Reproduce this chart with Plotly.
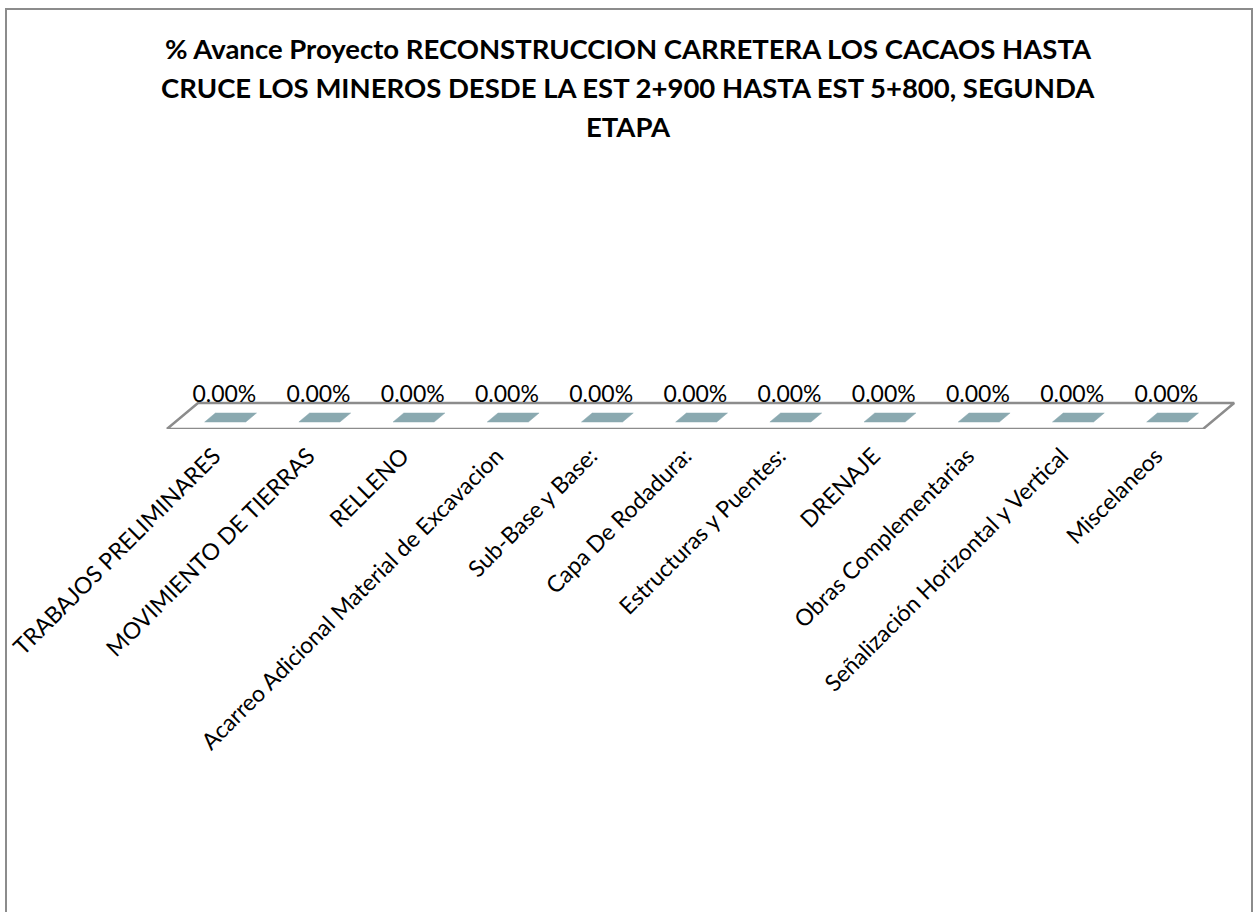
import plotly.graph_objects as go

categories = [
    "TRABAJOS PRELIMINARES",
    "MOVIMIENTO DE TIERRAS",
    "RELLENO",
    "Acarreo Adicional Material de Excavacion",
    "Sub-Base y Base:",
    "Capa De Rodadura:",
    "Estructuras y Puentes:",
    "DRENAJE",
    "Obras Complementarias",
    "Señalización Horizontal y Vertical",
    "Miscelaneos",
]
avance = [0.0, 0.0, 0.0, 0.0, 0.0, 0.0, 0.0, 0.0, 0.0, 0.0, 0.0]
title_lines = [
    "% Avance Proyecto RECONSTRUCCION CARRETERA LOS CACAOS HASTA",
    "CRUCE LOS MINEROS DESDE LA EST 2+900 HASTA EST 5+800, SEGUNDA",
    "ETAPA",
]

W, H = 1256, 912
# pseudo-3D geometry: depth on y, x skewed with depth
SKEW = 0.33
FRONT, BACK = 0.27, 0.615
HALF = 0.218
OFF = 0.03
HEIGHT_SCALE = 10.0
LABEL_DEPTH = 1.25
BAR_COLOR = "#8AA9B0"
FONT = "Lato"

fig = go.Figure()
n = len(categories)

# floor
fig.add_trace(go.Scatter(
    x=[-0.5, -0.5 + SKEW, n - 0.5 + SKEW, n - 0.5, -0.5],
    y=[0, 1, 1, 0, 0],
    mode="lines", fill="toself", fillcolor="white",
    line=dict(color="#8c8c8c", width=2.5),
    hoverinfo="skip", showlegend=False,
))

# bars (flat tops since value = 0)
for i, v in enumerate(avance):
    h = v * HEIGHT_SCALE
    cf = i + OFF + SKEW * FRONT
    cb = i + OFF + SKEW * BACK
    xs = [cf - HALF, cb - HALF, cb + HALF, cf + HALF, cf - HALF]
    ys = [FRONT + h, BACK + h, BACK + h, FRONT + h, FRONT + h]
    fig.add_trace(go.Scatter(
        x=xs, y=ys, mode="lines", fill="toself", fillcolor=BAR_COLOR,
        line=dict(color=BAR_COLOR, width=0.5),
        hoverinfo="skip", showlegend=False,
    ))

# data labels
fig.add_trace(go.Scatter(
    x=[i + 0.11 for i in range(n)],
    y=[LABEL_DEPTH + v * HEIGHT_SCALE for v in avance],
    mode="text",
    text=[f"{v*100:.2f}%" for v in avance],
    textposition="middle center",
    textfont=dict(family=FONT, size=23, color="black"),
    cliponaxis=False, hoverinfo="skip", showlegend=False,
))

PX = 94.2      # pixels per category
Y_TOP = 1.7    # depth range top
x0 = -214 / PX
x1 = (W - 214) / PX
y_top_px = 429 - 26 * Y_TOP

title_y = [49, 87.5, 126]
annotations = [
    dict(text=t, xref="paper", yref="paper", x=0.5, xanchor="center",
         y=(H - yy) / H, yanchor="middle", showarrow=False,
         font=dict(family=FONT, size=27.5, color="black", weight="bold"))
    for t, yy in zip(title_lines, title_y)
]

fig.update_layout(
    width=W, height=H,
    margin=dict(l=0, r=0, t=0, b=0, autoexpand=False),
    paper_bgcolor="white", plot_bgcolor="rgba(0,0,0,0)",
    annotations=annotations,
    xaxis=dict(range=[x0, x1], domain=[0, 1], automargin=False,
               tickmode="array", tickvals=list(range(n)), ticktext=categories,
               tickangle=-45, showgrid=False, zeroline=False, showline=False,
               ticks="", ticklabelstandoff=8, ticklabeloverflow="allow",
               tickfont=dict(family=FONT, size=23, color="black")),
    yaxis=dict(range=[0, Y_TOP], domain=[(H - 429) / H, (H - y_top_px) / H],
               automargin=False,
               showgrid=False, zeroline=False, showline=False,
               showticklabels=False, fixedrange=True),
    shapes=[dict(type="rect", xref="paper", yref="paper",
                 x0=6 / W, x1=1252 / W, y0=-0.02, y1=(H - 9) / H,
                 line=dict(color="#8c8c8c", width=2))],
)

fig.write_html("out.html", config={"displayModeBar": False},
               post_script="document.body.style.margin='0';document.body.style.overflow='hidden';")
